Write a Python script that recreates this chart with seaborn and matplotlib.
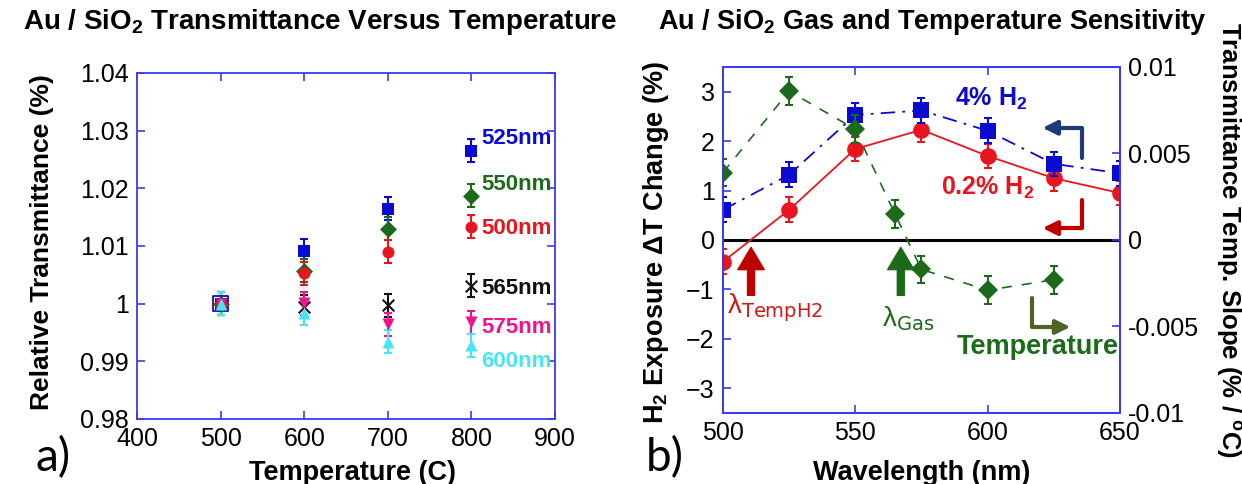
import numpy as np
import pandas as pd
import matplotlib
matplotlib.use("Agg")
import matplotlib.pyplot as plt
import seaborn as sns

# ---- data, panel a ----
temps = [500, 600, 700, 800]
t_525 = [1.0, 1.0092, 1.0165, 1.0265]
t_550 = [1.0, 1.0057, 1.0130, 1.0187]
t_500 = [1.0, 1.0053, 1.0090, 1.0133]
t_565 = [1.0, 0.9995, 0.9997, 1.0031]
t_575 = [1.0, 1.0001, 0.9964, 0.9968]
t_600 = [1.0, 0.9983, 0.9934, 0.9928]
t_err = 0.002
series_names = ["525nm", "550nm", "500nm", "565nm", "575nm", "600nm"]

# ---- data, panel b ----
wl = [500, 525, 550, 575, 600, 625, 650]
h2_low = [-0.44, 0.61, 1.84, 2.23, 1.70, 1.25, 0.95]    # 0.2% H2
h2_high = [0.61, 1.32, 2.53, 2.62, 2.21, 1.54, 1.35]    # 4% H2
h2_err = 0.25
wl_temp = [500, 525, 550, 565, 575, 600, 625]
temp_slope = [0.0039, 0.0086, 0.0064, 0.0015, -0.0017, -0.0029, -0.0023]
slope_err = 0.0008

sns.set_theme(style="ticks")
plt.rcParams["font.family"] = ["Liberation Sans", "DejaVu Sans"]
plt.rcParams["mathtext.default"] = "regular"
plt.rcParams["text.color"] = "black"
plt.rcParams["xtick.labelcolor"] = "black"
plt.rcParams["ytick.labelcolor"] = "black"

BLUE_AX = "#3a3af2"
c_blue = "#0a0ad2"
c_green = "#1b6b1b"
c_red = "#e8141e"
c_black = "#111111"
c_mag = "#f0148c"
c_cyan = "#45e6f8"

fig = plt.figure(figsize=(12.42, 4.84), dpi=100)
ax1 = fig.add_axes([0.1103, 0.1343, 0.3366, 0.7149])
ax2 = fig.add_axes([0.5821, 0.1467, 0.3196, 0.7149])


def style_axes(ax, right=True):
    for s in ax.spines.values():
        s.set_color(BLUE_AX)
        s.set_linewidth(1.3)
    ax.tick_params(direction="in", length=6, width=1.2, color=BLUE_AX,
                   labelcolor="black", labelsize=18, top=True, right=right,
                   pad=6)


# ---- panel a ----
colors_a = [c_blue, c_green, c_red, c_black, c_mag, c_cyan]
markers_a = ["s", "D", "o", "x", "v", "^"]
values_a = [t_525, t_550, t_500, t_565, t_575, t_600]
label_shift = [0.0021, 0.0019, -0.0002, -0.0004, -0.0010, -0.0029]
df_a = pd.DataFrame({"temp": temps * 6,
                     "T": sum(values_a, []),
                     "name": np.repeat(series_names, 4)})

for name, col, mk, vals, dy in zip(series_names, colors_a, markers_a,
                                   values_a, label_shift):
    sub = df_a[df_a["name"] == name]
    ax1.errorbar(sub["temp"], sub["T"], yerr=t_err, fmt="none",
                 ecolor=col, elinewidth=1.5, capsize=3, capthick=1.5)
    sns.scatterplot(data=sub, x="temp", y="T", ax=ax1, color=col, marker=mk,
                    s=75 if mk != "x" else 70, linewidth=1.5 if mk == "x" else 0,
                    edgecolor=col, zorder=3, legend=False)
    ax1.text(812, vals[-1] + dy, name, color=col, fontsize=16,
             fontweight="bold", va="center", ha="left")

# open square at 500 C (overlapping first points)
ax1.scatter([temps[0]], [t_525[0]], marker="s", s=110, facecolor="none",
            edgecolor=c_blue, linewidth=1.3, zorder=2)

ax1.set_xlim(400, 900)
ax1.set_ylim(0.98, 1.04)
ax1.set_xticks([400, 500, 600, 700, 800, 900])
ax1.set_yticks([0.98, 0.99, 1.0, 1.01, 1.02, 1.03, 1.04])
ax1.set_yticklabels(["0.98", "0.99", "1", "1.01", "1.02", "1.03", "1.04"])
ax1.set_xlabel("")
ax1.set_ylabel("")
style_axes(ax1)

# ---- panel b ----
sns.lineplot(x=wl, y=h2_low, ax=ax2, color=c_red, linewidth=1.3,
             marker="o", markersize=12, markeredgewidth=0, zorder=4)
ax2.errorbar(wl, h2_low, yerr=h2_err, fmt="none", ecolor=c_red,
             elinewidth=1.5, capsize=3, capthick=1.5, zorder=4)
sns.lineplot(x=wl, y=h2_high, ax=ax2, color=c_blue, linewidth=1.3,
             linestyle=(0, (8, 4, 1.5, 4)), marker="s", markersize=12,
             markeredgewidth=0, zorder=4)
ax2.errorbar(wl, h2_high, yerr=h2_err, fmt="none", ecolor=c_blue,
             elinewidth=1.5, capsize=3, capthick=1.5, zorder=4)
ax2.axhline(0, color="black", linewidth=2.2, zorder=2)

ax2.set_xlim(500, 650)
ax2.set_ylim(-3.5, 3.5)
ax2.set_xticks([500, 550, 600, 650])
ax2.set_yticks([-3, -2, -1, 0, 1, 2, 3])
ax2.set_xlabel("")
ax2.set_ylabel("")
style_axes(ax2, right=False)

ax3 = ax2.twinx()
sns.lineplot(x=wl_temp, y=temp_slope, ax=ax3, color=c_green, linewidth=1.2,
             linestyle=(0, (6, 6)), marker="D", markersize=10,
             markeredgewidth=0, zorder=3)
ax3.errorbar(wl_temp, temp_slope, yerr=slope_err, fmt="none", ecolor=c_green,
             elinewidth=1.5, capsize=3, capthick=1.5)
ax3.set_ylim(-0.01, 0.01)
ax3.set_yticks([-0.01, -0.005, 0, 0.005, 0.01])
ax3.set_yticklabels(["-0.01", "-0.005", "0", "0.005", "0.01"])
ax3.set_ylabel("")
for s in ax3.spines.values():
    s.set_color(BLUE_AX)
    s.set_linewidth(1.3)
ax3.tick_params(direction="in", length=6, width=1.2, color=BLUE_AX,
                labelcolor="black", labelsize=18, pad=6)

# annotations panel b
ax2.text(587.5, 2.85, "4% H$_2$", color=c_blue, fontsize=18,
         fontweight="bold", va="center")
ax2.text(582.5, 1.05, "0.2% H$_2$", color=c_red, fontsize=18,
         fontweight="bold", va="center")
ax2.text(588.5, -2.17, "Temperature", color=c_green, fontsize=19.5,
         fontweight="bold", va="center")

ax2.annotate("", xy=(620.8, 2.27), xytext=(635.5, 1.66),
             arrowprops=dict(arrowstyle="-|>,head_width=0.35,head_length=0.7",
                             connectionstyle="angle,angleA=90,angleB=0,rad=0",
                             color="#1f3a78", lw=3, shrinkA=0, shrinkB=0))
ax2.annotate("", xy=(620.8, 0.24), xytext=(635.5, 0.81),
             arrowprops=dict(arrowstyle="-|>,head_width=0.35,head_length=0.7",
                             connectionstyle="angle,angleA=90,angleB=0,rad=0",
                             color="#c00000", lw=3, shrinkA=0, shrinkB=0))
ax2.annotate("", xy=(631.2, -1.76), xytext=(616.6, -1.17),
             arrowprops=dict(arrowstyle="-|>,head_width=0.35,head_length=0.7",
                             connectionstyle="angle,angleA=-90,angleB=0,rad=0",
                             color="#4f6228", lw=3, shrinkA=0, shrinkB=0))

ax2.annotate("", xy=(510.6, -0.15), xytext=(510.6, -1.12),
             arrowprops=dict(width=5, headwidth=19, headlength=16,
                             color="#c00000", shrink=0))
ax2.annotate("", xy=(567.2, -0.15), xytext=(567.2, -1.12),
             arrowprops=dict(width=5, headwidth=19, headlength=16,
                             color="#1b6b1b", shrink=0))
ax2.text(501.5, -1.38, r"$\lambda_{\mathrm{TempH2}}$", color="#d01818",
         fontsize=20, va="center", ha="left")
ax2.text(560.2, -1.6, r"$\lambda_{\mathrm{Gas}}$", color=c_green,
         fontsize=20, va="center", ha="left")

# titles and labels
fig.text(0.258, 0.955, "Au / SiO$_2$ Transmittance Versus Temperature",
         fontsize=20, fontweight="bold", ha="center", va="center")
fig.text(0.751, 0.955, "Au / SiO$_2$ Gas and Temperature Sensitivity",
         fontsize=19.5, fontweight="bold", ha="center", va="center")
fig.text(0.034, 0.50, "Relative Transmittance (%)", fontsize=19,
         fontweight="bold", rotation=90, ha="center", va="center")
fig.text(0.284, 0.022, "Temperature (C)", fontsize=19.5, fontweight="bold",
         ha="center", va="center")
fig.text(0.528, 0.50, r"H$_2$ Exposure $\Delta$T Change (%)", fontsize=19.5,
         fontweight="bold", rotation=90, ha="center", va="center")
fig.text(0.742, 0.022, "Wavelength (nm)", fontsize=19.5, fontweight="bold",
         ha="center", va="center")
fig.text(0.989, 0.505, "Transmittance Temp. Slope (% / $^o$C)", fontsize=18.5,
         fontweight="bold", rotation=270, ha="center", va="center")
fig.text(0.043, 0.054, "a)", fontsize=33, ha="center", va="center",
         family=["Lato", "DejaVu Sans"])
fig.text(0.535, 0.054, "b)", fontsize=33, ha="center", va="center",
         family=["Lato", "DejaVu Sans"])

fig.savefig("out.png", dpi=100)
